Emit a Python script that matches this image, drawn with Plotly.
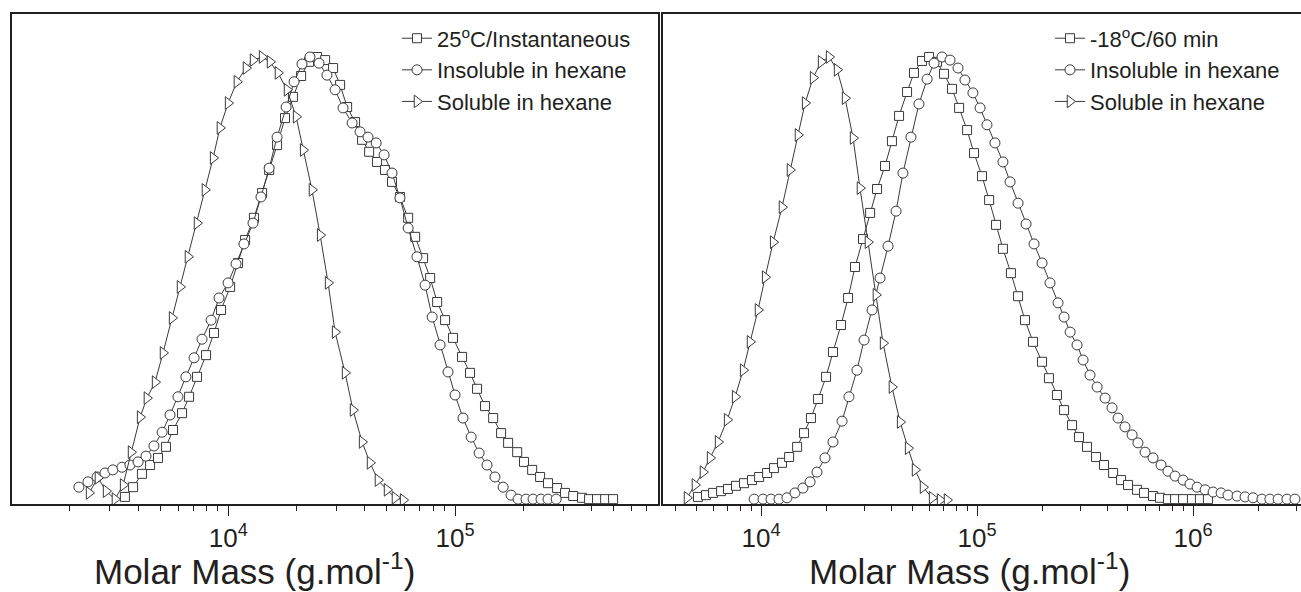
import plotly.graph_objects as go

# ---------------- Left panel: 25 C / instantaneous ----------------
logM_25C_total = [3.544, 3.580, 3.619, 3.655, 3.690, 3.725, 3.756, 3.796, 3.827, 3.862,
                  3.902, 3.937, 3.968, 4.008, 4.043, 4.074, 4.113, 4.149, 4.180, 4.215,
                  4.250, 4.285, 4.321, 4.356, 4.391, 4.427, 4.462, 4.493, 4.524, 4.559,
                  4.590, 4.621, 4.656, 4.691, 4.722, 4.757, 4.793, 4.824, 4.859, 4.890,
                  4.921, 4.956, 4.991, 5.031, 5.066, 5.097, 5.132, 5.168, 5.203, 5.234,
                  5.274, 5.304, 5.340, 5.375, 5.410, 5.450, 5.485, 5.521, 5.560, 5.591,
                  5.626, 5.662, 5.697]
w_25C_total = [0.007, 0.029, 0.059, 0.079, 0.095, 0.120, 0.158, 0.196, 0.233, 0.278,
               0.327, 0.377, 0.429, 0.481, 0.535, 0.587, 0.637, 0.693, 0.745, 0.801,
               0.862, 0.910, 0.957, 0.989, 1.000, 0.993, 0.975, 0.937, 0.887, 0.853,
               0.813, 0.786, 0.763, 0.745, 0.718, 0.684, 0.637, 0.594, 0.546, 0.501,
               0.447, 0.406, 0.366, 0.323, 0.287, 0.251, 0.212, 0.185, 0.151, 0.129,
               0.108, 0.086, 0.068, 0.052, 0.038, 0.027, 0.016, 0.009, 0.005, 0.002,
               0.002, 0.002, 0.002]

logM_25C_insol = [3.341, 3.381, 3.421, 3.456, 3.491, 3.531, 3.566, 3.602, 3.637, 3.672,
                  3.708, 3.743, 3.778, 3.813, 3.849, 3.884, 3.924, 3.959, 3.999, 4.034,
                  4.069, 4.109, 4.144, 4.180, 4.215, 4.255, 4.290, 4.325, 4.360, 4.400,
                  4.435, 4.471, 4.506, 4.546, 4.581, 4.616, 4.652, 4.687, 4.722, 4.757,
                  4.793, 4.832, 4.868, 4.899, 4.934, 4.969, 5.000, 5.035, 5.071, 5.106,
                  5.141, 5.176, 5.212, 5.247, 5.278, 5.313, 5.344, 5.379, 5.410, 5.446]
w_25C_insol = [0.029, 0.041, 0.052, 0.061, 0.068, 0.074, 0.079, 0.086, 0.099, 0.122,
               0.153, 0.192, 0.233, 0.278, 0.321, 0.363, 0.406, 0.456, 0.490, 0.533,
               0.578, 0.625, 0.684, 0.749, 0.819, 0.887, 0.944, 0.984, 1.000, 0.986,
               0.959, 0.926, 0.885, 0.851, 0.831, 0.819, 0.806, 0.779, 0.738, 0.682,
               0.614, 0.549, 0.485, 0.413, 0.350, 0.289, 0.237, 0.185, 0.142, 0.106,
               0.079, 0.052, 0.029, 0.011, 0.002, 0.002, 0.002, 0.002, 0.002, 0.002]

logM_25C_sol = [3.386, 3.425, 3.461, 3.500, 3.536, 3.571, 3.611, 3.641, 3.677, 3.712,
                3.752, 3.787, 3.822, 3.862, 3.897, 3.933, 3.963, 3.999, 4.038, 4.078,
                4.109, 4.149, 4.184, 4.219, 4.259, 4.299, 4.330, 4.369, 4.405, 4.440,
                4.471, 4.515, 4.550, 4.590, 4.625, 4.660, 4.700, 4.735, 4.771]
w_25C_sol = [0.016, 0.050, 0.020, 0.002, 0.034, 0.108, 0.187, 0.230, 0.266, 0.332,
             0.411, 0.481, 0.549, 0.625, 0.700, 0.772, 0.840, 0.896, 0.944, 0.975,
             0.993, 1.000, 0.989, 0.964, 0.926, 0.865, 0.790, 0.700, 0.598, 0.490,
             0.379, 0.287, 0.203, 0.131, 0.084, 0.045, 0.023, 0.005, 0.000]

# ---------------- Right panel: -18 C / 60 min ----------------
logM_m18C_total = [3.708, 3.745, 3.778, 3.815, 3.847, 3.884, 3.921, 3.958, 3.991, 4.028,
                   4.060, 4.097, 4.130, 4.167, 4.199, 4.231, 4.264, 4.301, 4.333, 4.370,
                   4.403, 4.435, 4.472, 4.505, 4.537, 4.574, 4.606, 4.639, 4.676, 4.708,
                   4.745, 4.778, 4.815, 4.847, 4.884, 4.917, 4.954, 4.986, 5.023, 5.056,
                   5.088, 5.120, 5.157, 5.190, 5.222, 5.259, 5.301, 5.333, 5.370, 5.403,
                   5.440, 5.472, 5.509, 5.551, 5.588, 5.630, 5.667, 5.699, 5.741, 5.773,
                   5.815, 5.847, 5.884, 5.917, 5.954, 5.995, 6.032, 6.069]
w_m18C_total = [0.007, 0.011, 0.016, 0.020, 0.025, 0.032, 0.038, 0.045, 0.052, 0.061,
                0.072, 0.084, 0.097, 0.120, 0.151, 0.185, 0.228, 0.278, 0.334, 0.395,
                0.456, 0.526, 0.589, 0.648, 0.702, 0.754, 0.810, 0.867, 0.921, 0.964,
                0.991, 1.000, 0.989, 0.962, 0.928, 0.885, 0.835, 0.783, 0.731, 0.677,
                0.621, 0.567, 0.512, 0.460, 0.406, 0.357, 0.312, 0.275, 0.237, 0.203,
                0.169, 0.142, 0.120, 0.097, 0.079, 0.061, 0.045, 0.034, 0.023, 0.016,
                0.009, 0.005, 0.002, 0.002, 0.002, 0.002, 0.002, 0.002]

logM_m18C_insol = [3.968, 4.009, 4.046, 4.083, 4.120, 4.157, 4.194, 4.227, 4.259, 4.296,
                   4.333, 4.375, 4.407, 4.444, 4.477, 4.514, 4.551, 4.588, 4.625, 4.657,
                   4.694, 4.731, 4.769, 4.801, 4.838, 4.875, 4.912, 4.944, 4.981, 5.014,
                   5.046, 5.083, 5.120, 5.153, 5.190, 5.227, 5.264, 5.301, 5.338, 5.375,
                   5.403, 5.431, 5.463, 5.491, 5.523, 5.556, 5.593, 5.625, 5.653, 5.685,
                   5.718, 5.745, 5.778, 5.815, 5.852, 5.884, 5.917, 5.954, 5.986, 6.019,
                   6.056, 6.093, 6.130, 6.162, 6.204, 6.241, 6.278, 6.319, 6.356, 6.394,
                   6.435, 6.472]
w_m18C_insol = [0.002, 0.002, 0.002, 0.002, 0.005, 0.016, 0.027, 0.041, 0.063, 0.095,
                0.131, 0.178, 0.233, 0.293, 0.361, 0.429, 0.501, 0.573, 0.652, 0.738,
                0.819, 0.894, 0.950, 0.986, 1.000, 0.993, 0.975, 0.948, 0.919, 0.885,
                0.847, 0.806, 0.763, 0.718, 0.670, 0.623, 0.578, 0.535, 0.490, 0.445,
                0.413, 0.379, 0.350, 0.316, 0.282, 0.255, 0.230, 0.208, 0.185, 0.165,
                0.147, 0.129, 0.108, 0.095, 0.079, 0.065, 0.054, 0.045, 0.036, 0.029,
                0.023, 0.018, 0.016, 0.011, 0.009, 0.007, 0.005, 0.002, 0.002, 0.002,
                0.002, 0.002]

logM_m18C_sol = [3.657, 3.694, 3.731, 3.764, 3.801, 3.843, 3.880, 3.917, 3.949, 3.986,
                 4.019, 4.056, 4.097, 4.134, 4.171, 4.204, 4.241, 4.278, 4.315, 4.352,
                 4.389, 4.426, 4.458, 4.495, 4.532, 4.565, 4.606, 4.644, 4.681, 4.713,
                 4.750, 4.792, 4.829, 4.861]
w_m18C_sol = [0.005, 0.034, 0.063, 0.095, 0.131, 0.181, 0.233, 0.293, 0.357, 0.429,
              0.503, 0.582, 0.661, 0.745, 0.824, 0.896, 0.953, 0.989, 1.000, 0.971,
              0.907, 0.817, 0.704, 0.582, 0.463, 0.354, 0.255, 0.176, 0.117, 0.068,
              0.029, 0.005, 0.000, 0.000]

left_names = ["25<sup>o</sup>C/Instantaneous", "Insoluble in hexane", "Soluble in hexane"]
right_names = ["-18<sup>o</sup>C/60 min", "Insoluble in hexane", "Soluble in hexane"]
major_left = [1e4, 1e5]
major_right = [1e4, 1e5, 1e6]
major_text_left = ["10<sup>4</sup>", "10<sup>5</sup>"]
major_text_right = ["10<sup>4</sup>", "10<sup>5</sup>", "10<sup>6</sup>"]
x_title = "Molar Mass (g.mol<sup>-1</sup>)"

INK = "#231f20"
LINE = "#3a3a3a"
FONT = "Liberation Sans, Arial, sans-serif"

symbols = ["square", "circle", "triangle-right"]
sizes = [9, 10, 11]


def to_M(logs):
    return [10 ** v for v in logs]


fig = go.Figure()

left_sets = [(logM_25C_total, w_25C_total), (logM_25C_insol, w_25C_insol), (logM_25C_sol, w_25C_sol)]
right_sets = [(logM_m18C_total, w_m18C_total), (logM_m18C_insol, w_m18C_insol), (logM_m18C_sol, w_m18C_sol)]

for i, (lx, wy) in enumerate(left_sets):
    fig.add_trace(go.Scatter(
        x=to_M(lx), y=wy, name=left_names[i], mode="lines+markers",
        xaxis="x", yaxis="y", legend="legend",
        line=dict(color=LINE, width=1),
        marker=dict(symbol=symbols[i], size=sizes[i], color="white",
                    line=dict(color=LINE, width=1)),
    ))

for i, (lx, wy) in enumerate(right_sets):
    fig.add_trace(go.Scatter(
        x=to_M(lx), y=wy, name=right_names[i], mode="lines+markers",
        xaxis="x2", yaxis="y2", legend="legend2",
        line=dict(color=LINE, width=1),
        marker=dict(symbol=symbols[i], size=sizes[i], color="white",
                    line=dict(color=LINE, width=1)),
    ))

W, H = 1301, 592
minor_vals = [m * 10 ** e for e in range(3, 7) for m in range(2, 10)]

xcommon = dict(type="log", showgrid=False, zeroline=False, showline=True,
               linecolor=INK, linewidth=2, mirror=True, ticks="outside",
               ticklen=10, tickwidth=1.2, tickcolor=INK,
               tickfont=dict(family=FONT, size=26, color=INK),
               minor=dict(ticks="outside", ticklen=5, tickwidth=1.2, tickcolor=INK,
                          tickmode="array", tickvals=minor_vals, showgrid=False))

ycommon = dict(range=[-0.009, 1.097], showgrid=False, zeroline=False, showline=True,
               linecolor=INK, linewidth=2, ticks="", showticklabels=False)

fig.update_layout(
    width=W, height=H,
    margin=dict(l=0, r=0, t=14, b=88),
    paper_bgcolor="white", plot_bgcolor="white",
    font=dict(family=FONT, color=INK),
    xaxis=dict(xcommon, domain=[12 / W, 658 / W], range=[3.046, 5.895],
               tickmode="array", tickvals=major_left, ticktext=major_text_left, anchor="y"),
    yaxis=dict(ycommon, domain=[0, 1], mirror=True, anchor="x"),
    xaxis2=dict(xcommon, domain=[663 / W, 1.0], range=[3.546, 6.5],
                tickmode="array", tickvals=major_right, ticktext=major_text_right, anchor="y2"),
    yaxis2=dict(ycommon, domain=[0, 1], mirror=False, anchor="x2"),
    legend=dict(x=397 / W, y=0.993, xanchor="left", yanchor="top",
                bgcolor="rgba(0,0,0,0)", borderwidth=0,
                font=dict(family=FONT, size=22, color=INK), tracegroupgap=0),
    legend2=dict(x=1050 / W, y=0.993, xanchor="left", yanchor="top",
                 bgcolor="rgba(0,0,0,0)", borderwidth=0,
                 font=dict(family=FONT, size=22, color=INK), tracegroupgap=0),
    showlegend=True,
)

for cx in [254 / W, 969 / W]:
    fig.add_annotation(x=cx, y=(504 - 569) / 490, xref="paper", yref="paper",
                       text=x_title, showarrow=False, xanchor="center", yanchor="middle",
                       font=dict(family=FONT, size=35, color=INK))

fig.write_html("out.html")
